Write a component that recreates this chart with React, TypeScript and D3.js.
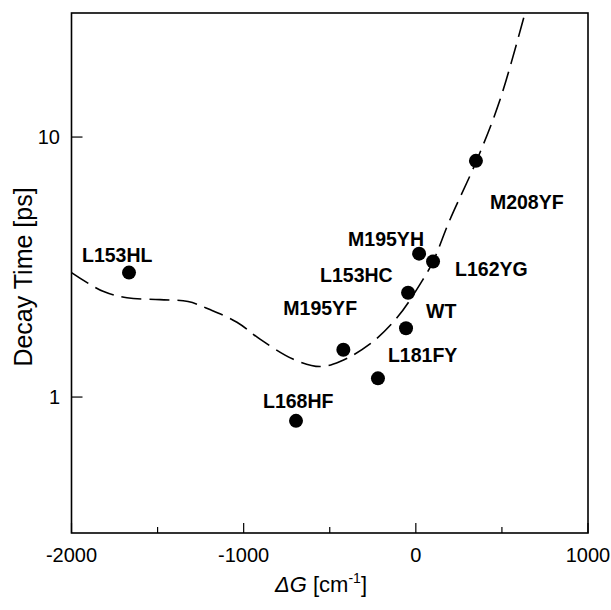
import React from "react";
import * as d3 from "d3";

const mutants = ["L153HL", "L168HF", "M195YF", "L181FY", "WT", "L153HC", "M195YH", "L162YG", "M208YF"];
const deltaG = [-1666, -696, -421, -220, -57, -45, 19, 100, 349];
const decayTime = [3.01, 0.81, 1.52, 1.18, 1.84, 2.52, 3.56, 3.32, 8.1];
// label offsets (px) relative to point: left edge, baseline
const labelDx = [-47, -33, -60, 10, 20, -88, -71, 22, 14];
const labelDy = [-11, -13, -35, -16, -10, -11, -8, 14, 48];

const curveX = [-2000, -1817, -1678, -1486, -1323, -1196, -1039, -905, -714, -557, -440, -266, -104, 41, 100, 198, 355, 489, 634];
const curveY = [3.01, 2.55, 2.41, 2.37, 2.33, 2.17, 1.94, 1.67, 1.40, 1.31, 1.37, 1.60, 2.04, 2.83, 3.32, 4.81, 8.17, 13.9, 30];

const xMajorTicks = [-2000, -1000, 0, 1000];
const xMinorTicks = [-1500, -500, 500];
const yTicks = [1, 10];

const W = 611, H = 610;
const left = 71.5, right = 588, top = 13, bottom = 533;
const font = "'Liberation Sans', Arial, sans-serif";

export default function App() {
  const x = d3.scaleLinear().domain([-2000, 1000]).range([left, right]);
  const y = d3.scaleLog().domain([0.3, 30]).range([bottom, top]);
  const line = d3
    .line<number>()
    .x((_, i) => x(curveX[i]))
    .y((_, i) => y(curveY[i]))
    .curve(d3.curveCatmullRom.alpha(0.5));
  const path = line(curveX) || "";

  return (
    <svg width={W} height={H} style={{ position: "absolute", left: 0, top: 0, background: "#fff" }}>
      <defs>
        <clipPath id="plot">
          <rect x={left} y={top} width={right - left} height={bottom - top} />
        </clipPath>
      </defs>
      <rect x={0} y={0} width={W} height={H} fill="#fff" />
      <path d={path} fill="none" stroke="#000" strokeWidth={1.6} strokeDasharray="20,8" clipPath="url(#plot)" />
      {deltaG.map((g, i) => (
        <circle key={i} cx={x(g)} cy={y(decayTime[i])} r={7} fill="#000" />
      ))}
      {mutants.map((m, i) => (
        <text
          key={m}
          x={x(deltaG[i]) + labelDx[i]}
          y={y(decayTime[i]) + labelDy[i]}
          fontFamily={font}
          fontWeight="bold"
          fontSize={19.5}
          fill="#000"
        >
          {m}
        </text>
      ))}
      <rect x={left} y={top} width={right - left} height={bottom - top} fill="none" stroke="#000" strokeWidth={1.6} />
      {xMajorTicks.map((t) => (
        <g key={t}>
          <line x1={x(t)} x2={x(t)} y1={bottom} y2={bottom - 10} stroke="#000" strokeWidth={1.2} />
          <text x={x(t)} y={562} textAnchor="middle" fontFamily={font} fontSize={20} fill="#000">
            {t}
          </text>
        </g>
      ))}
      {xMinorTicks.map((t) => (
        <line key={t} x1={x(t)} x2={x(t)} y1={bottom} y2={bottom - 6} stroke="#000" strokeWidth={1.2} />
      ))}
      {yTicks.map((t) => (
        <g key={t}>
          <line x1={left} x2={left + 11} y1={y(t)} y2={y(t)} stroke="#000" strokeWidth={1.2} />
          <text x={60} y={y(t)} dy="0.35em" textAnchor="end" fontFamily={font} fontSize={20} fill="#000">
            {t}
          </text>
        </g>
      ))}
      <text
        transform={`translate(32,277) rotate(-90)`}
        textAnchor="middle"
        fontFamily={font}
        fontSize={25}
        fill="#000"
      >
        Decay Time [ps]
      </text>
      <text x={321} y={592} textAnchor="middle" fontFamily={font} fontSize={22} fill="#000">
        <tspan fontStyle="italic">ΔG</tspan>
        <tspan> [cm</tspan>
        <tspan fontSize={14} dy={-9}>-1</tspan>
        <tspan dy={9}>]</tspan>
      </text>
    </svg>
  );
}
